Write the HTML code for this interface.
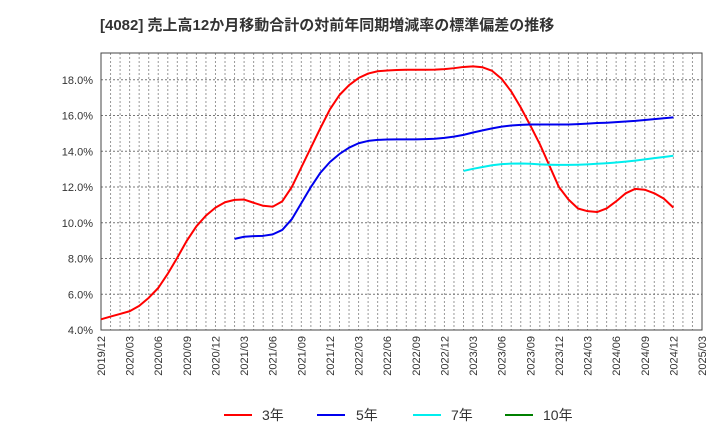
<!DOCTYPE html>
<html><head><meta charset="utf-8"><style>
body{margin:0;background:#fff;font-family:"Liberation Sans","Noto Sans CJK JP",sans-serif}
</style></head><body>
<svg id="c" width="720" height="440" xmlns="http://www.w3.org/2000/svg" font-family="Liberation Sans, Noto Sans CJK JP, sans-serif">
<text x="100" y="30" font-size="15" font-weight="bold" fill="#333">[4082]  売上高12か月移動合計の対前年同期増減率の標準偏差の推移</text>
<g id="grid"></g><g id="axes"></g><g id="series"></g>
<g font-size="14" fill="#333">
<line x1="224" y1="415" x2="252" y2="415" stroke="#ff0000" stroke-width="2"/><text x="262" y="420">3年</text>
<line x1="317" y1="415" x2="345" y2="415" stroke="#0000ee" stroke-width="2"/><text x="356" y="420">5年</text>
<line x1="413" y1="415" x2="441" y2="415" stroke="#00eeee" stroke-width="2"/><text x="451" y="420">7年</text>
<line x1="505" y1="415" x2="533" y2="415" stroke="#008000" stroke-width="2"/><text x="543" y="420">10年</text>
</g>
</svg>
<script>
const yTicks=[4,6,8,10,12,14,16,18];
const xLabels=["2019/12","2020/03","2020/06","2020/09","2020/12","2021/03","2021/06","2021/09","2021/12","2022/03","2022/06","2022/09","2022/12","2023/03","2023/06","2023/09","2023/12","2024/03","2024/06","2024/09","2024/12","2025/03"];
const s3=[4.6,4.75,4.9,5.05,5.35,5.8,6.35,7.15,8.05,9.0,9.8,10.4,10.85,11.15,11.28,11.3,11.12,10.95,10.9,11.2,12.0,13.1,14.2,15.3,16.35,17.15,17.7,18.1,18.35,18.48,18.52,18.55,18.56,18.56,18.56,18.57,18.6,18.65,18.72,18.75,18.7,18.5,18.05,17.35,16.45,15.45,14.4,13.2,12.0,11.3,10.8,10.65,10.6,10.8,11.2,11.65,11.9,11.85,11.65,11.35,10.85];
const s5Start=14;
const s5=[9.1,9.22,9.25,9.27,9.35,9.6,10.2,11.1,12.0,12.8,13.4,13.85,14.2,14.45,14.58,14.64,14.66,14.67,14.67,14.67,14.68,14.7,14.75,14.82,14.92,15.05,15.17,15.28,15.38,15.44,15.48,15.5,15.5,15.5,15.5,15.5,15.52,15.55,15.58,15.6,15.63,15.67,15.7,15.75,15.8,15.85,15.9];
const s7Start=38;
const s7=[12.9,13.02,13.12,13.22,13.28,13.31,13.32,13.3,13.27,13.25,13.24,13.24,13.25,13.27,13.3,13.33,13.37,13.42,13.48,13.55,13.62,13.68,13.75];
const X0=101,X1=702,Y0=330,Y1=53,NM=63,YMIN=4,YMAX=19.5;
const xs=i=>X0+(X1-X0)*i/NM;
const ys=v=>Y0-(Y0-Y1)*(v-YMIN)/(YMAX-YMIN);
const NS="http://www.w3.org/2000/svg";
function mk(p,t,a){const e=document.createElementNS(NS,t);for(const k in a)e.setAttribute(k,a[k]);p.appendChild(e);return e;}
const grid=document.getElementById('grid'),axes=document.getElementById('axes'),ser=document.getElementById('series');
for(let m=1;m<NM;m++){const l=mk(grid,'line',{x1:xs(m),x2:xs(m),y1:Y1,y2:Y0,stroke:'#999','stroke-dasharray':'2,2','stroke-width':1});

}
yTicks.forEach(v=>{const l=mk(grid,'line',{x1:X0,x2:X1,y1:ys(v),y2:ys(v),stroke:'#777','stroke-dasharray':'2,2','stroke-width':1});


const t=mk(axes,'text',{x:93,y:ys(v)+4,'text-anchor':'end','font-size':11,fill:'#333'});t.textContent=v.toFixed(1)+'%';

});
xLabels.forEach((s,i)=>{const x=xs(i*3);const t=mk(axes,'text',{x:0,y:0,transform:`translate(${x+4},${Y0+6}) rotate(-90)`,'text-anchor':'end','font-size':11,fill:'#333'});t.textContent=s;

});
const fr=mk(axes,'rect',{x:X0,y:Y1,width:X1-X0,height:Y0-Y1,fill:'none',stroke:'#444','stroke-width':1});


function line(data,start,color,name){const p=mk(ser,'polyline',{points:data.map((v,i)=>xs(start+i)+','+ys(v)).join(' '),fill:'none',stroke:color,'stroke-width':2,'stroke-linejoin':'round'});

}
line(s3,0,'#ff0000','series-3y');
line(s5,s5Start,'#0000ee','series-5y');
line(s7,s7Start,'#00eeee','series-7y');
</script>
</body></html>
